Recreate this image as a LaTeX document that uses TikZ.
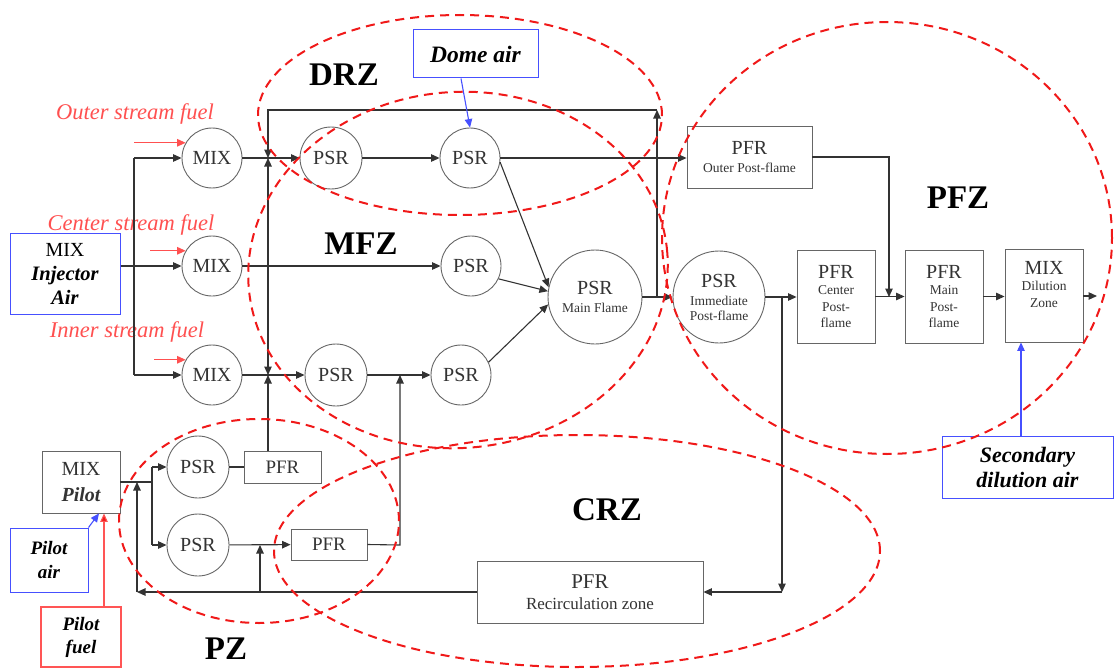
\documentclass[tikz,border=0pt]{standalone}
\usepackage{fontspec}
\setmainfont{Liberation Serif}
\usetikzlibrary{arrows.meta}
\definecolor{zred}{RGB}{240,25,25}
\definecolor{fred}{RGB}{255,80,80}
\definecolor{bblue}{RGB}{70,80,255}
\definecolor{lred}{RGB}{255,85,85}
\newcommand\fsz[2]{\fontsize{#1}{#2}\selectfont}
\tikzset{
  ln/.style={draw=black!80, line width=1.1pt},
  arr/.style={ln, -{Triangle[length=8.5pt,width=7.5pt]}},
  barr/.style={draw=bblue, line width=1.1pt, -{Triangle[length=8.5pt,width=7.5pt]}},
  rarr/.style={draw=fred, line width=1.1pt, -{Triangle[length=8.5pt,width=7.5pt]}},
  circ/.style={circle, draw=black!60, line width=0.9pt, inner sep=0pt, align=center, text=black!80, font=\fsz{13.5}{15}},
  box/.style={rectangle, draw=black!60, line width=0.9pt, inner sep=0pt, align=center, text=black!80, font=\fsz{13.5}{16.5}},
  bbox/.style={rectangle, draw=bblue, line width=1pt, inner sep=0pt, align=center, font=\fsz{22}{25}\bfseries\itshape},
  rbox/.style={rectangle, draw=lred, line width=1.2pt, inner sep=0pt, align=center, font=\fsz{19}{23}\bfseries\itshape},
  flabel/.style={text=fred, font=\fsz{22.5}{24}\itshape},
  zlabel/.style={font=\fsz{33}{33}\bfseries},
  zone/.style={draw=zred, line width=2pt, dash pattern=on 9pt off 6pt}
}
\begin{document}
\begin{tikzpicture}[x=1pt,y=-1pt]
\useasboundingbox (0,0) rectangle (1120,669);
% ---------- nodes ----------
\node[bbox, minimum width=110pt, minimum height=81pt, font=\fsz{20.5}{24}\bfseries\itshape] (inj) at (65,273.5) {{\normalfont\fsz{20}{24}MIX}\\Injector\\Air};
\node[bbox, minimum width=125pt, minimum height=48pt, font=\fsz{23.5}{25}\bfseries\itshape] (dome) at (475.5,54) {Dome air};
\node[circ, minimum size=60pt, font=\fsz{20}{22}] (mixo) at (212,158) {MIX};
\node[circ, minimum size=60pt, font=\fsz{20}{22}] (mixc) at (212,266) {MIX};
\node[circ, minimum size=60pt, font=\fsz{20}{22}] (mixi) at (212,375) {MIX};
\node[circ, minimum size=62pt, font=\fsz{20}{22}] (psr1) at (331,158) {PSR};
\node[circ, minimum size=60pt, font=\fsz{20}{22}] (psr2) at (470,158) {PSR};
\node[circ, minimum size=60pt, font=\fsz{20}{22}] (mfzpsr) at (471,266) {PSR};
\node[circ, minimum size=62pt, font=\fsz{20}{22}] (psr3) at (336,375) {PSR};
\node[circ, minimum size=60pt, font=\fsz{20}{22}] (psr4) at (461,375) {PSR};
\node[circ, minimum size=94pt] (mf) at (595,297) {{\fsz{20}{22}PSR}\\[3pt]Main Flame};
\node[circ, minimum size=92pt] (imm) at (719,297) {{\fsz{20}{22}PSR}\\[3pt]Immediate\\Post-flame};
\node[box, minimum width=125pt, minimum height=62pt] (pfro) at (749.5,157) {{\fsz{20}{22}PFR}\\[1pt]Outer Post-flame};
\node[box, minimum width=78pt, minimum height=93pt] (pfrc) at (836,296.5) {{\fsz{20}{22}PFR}\\Center\\Post-\\flame};
\node[box, minimum width=78pt, minimum height=93pt] (pfrm) at (944,296.5) {{\fsz{20}{22}PFR}\\Main\\Post-\\flame};
\node[box, minimum width=78pt, minimum height=93pt] (dil) at (1044,295.5) {{\fsz{20}{22}MIX}\\Dilution\\Zone\\[6pt]\mbox{}};
\node[bbox, minimum width=171pt, minimum height=62pt] (sec) at (1027.5,467) {Secondary\\dilution air};
\node[box, minimum width=226pt, minimum height=62pt, font=\fsz{17}{20}] (recirc) at (590,592) {{\fsz{21}{22}PFR}\\[1pt]Recirculation zone};
\node[box, minimum width=78pt, minimum height=62pt, font=\fsz{20}{26}\bfseries\itshape] (mixp) at (81,482) {{\normalfont MIX}\\Pilot};
\node[circ, minimum size=62pt, font=\fsz{20}{22}] (psrp1) at (198,467) {PSR};
\node[circ, minimum size=62pt, font=\fsz{20}{22}] (psrp2) at (198,545) {PSR};
\node[box, minimum width=77pt, minimum height=32pt, font=\fsz{19}{22}] (pfr1) at (282.5,467) {PFR};
\node[box, minimum width=76pt, minimum height=31pt, font=\fsz{19}{22}] (pfr2) at (329,544.5) {PFR};
\node[bbox, minimum width=78pt, minimum height=64pt, font=\fsz{19}{24}\bfseries\itshape] (pair) at (49,560) {Pilot\\air};
\node[rbox, minimum width=80pt, minimum height=60pt] (pfuel) at (81,637) {Pilot\\fuel};
% fuel labels
\node[flabel] (lo) at (135,114) {Outer stream fuel};
\node[flabel] (lc) at (131,225) {Center stream fuel};
\node[flabel] (li) at (127,332) {Inner stream fuel};
% zone labels
\node[zlabel] (tdrz) at (344,75) {DRZ};
\node[zlabel] (tmfz) at (361,244) {MFZ};
\node[zlabel] (tpfz) at (958,198) {PFZ};
\node[zlabel] (tcrz) at (607,510) {CRZ};
\node[zlabel] (tpz) at (226,649) {PZ};
% ---------- coordinates ----------
\coordinate (fx1) at (134,158);
\coordinate (fx3) at (134,375);
\coordinate (fo) at (134,141);
\coordinate (fc) at (150,250);
\coordinate (fi) at (154,357);
\coordinate (tr) at (657,110);
\coordinate (tl) at (268,110);
\coordinate (jo) at (268,158);
\coordinate (jc) at (268,266);
\coordinate (ji) at (268,375);
\coordinate (mfj) at (657,297);
\coordinate (rj) at (782,297);
\coordinate (rb) at (782,592);
\coordinate (oc) at (889,157);
\coordinate (od) at (889,297);
\coordinate (out) at (1097,296);
\coordinate (rl) at (137,592);
\coordinate (pj) at (137,482);
\coordinate (rj2) at (260,592);
\coordinate (rj3) at (260,545);
\coordinate (ps) at (152,482);
\coordinate (p1) at (152,467);
\coordinate (p2) at (152,545);
\coordinate (u1) at (400,545);
\coordinate (u2) at (400,375);
% ---------- connectors ----------
\draw[arr] (inj.east |- mixc.west) -- (mixc.west);
\draw[ln] (fx1) -- (fx3);
\draw[arr] (fx1) -- (mixo.west);
\draw[arr] (fx3) -- (mixi.west);
\draw[rarr] (fo |- mixo.150) -- (mixo.150);
\draw[rarr] (fc |- mixc.150) -- (mixc.150);
\draw[rarr] (fi |- mixi.150) -- (mixi.150);
\draw[arr] (mixo) -- (psr1);
\draw[arr] (psr1) -- (psr2);
\draw[arr] (psr2.east) -- (pfro.west |- psr2.east);
\draw[arr] (mixc.east) -- (mfzpsr.west);
\draw[arr] (mixi) -- (psr3);
\draw[arr] (psr3) -- (psr4);
\draw[arr] (psr2.-8) -- (mf.168);
\draw[arr] (mfzpsr.-25) -- (mf.173);
\draw[arr] (psr4.25) -- (mf.189);
\draw[arr] (mf) -- (imm);
\draw[arr] (mfj) -- (tr);
\draw[arr] (tr) -- (tl) -- (jo);
\draw[arr] (jc) -- (jo);
\draw[arr] (jc) -- (ji);
\draw[arr] (ji |- pfr1.north) -- (ji);
\draw[barr] ([xshift=-14.5pt]dome.south) -- (psr2.north);
\draw[arr] (imm.east) -- (pfrc.west |- imm.east);
\draw[arr] (rj) -- (rb);
\draw[arr] (rb) -- (recirc.east);
\draw[arr] (pfrc) -- (pfrm);
\draw[arr] (pfrm.east) -- (dil.west |- pfrm.east);
\draw[arr] (dil.east |- out) -- (out);
\draw[arr] (pfro.east) -- (oc) -- (od);
\draw[barr] ([xshift=-6.5pt]sec.north) -- ([xshift=-6.5pt]sec.north |- dil.south);
\draw[arr] (recirc.west) -- (rl);
\draw[arr] (rl) -- (pj);
\draw[arr] (rj2) -- (rj3);
\draw[ln] (mixp.east |- ps) -- (ps);
\draw[ln] (p1) -- (p2);
\draw[arr] (p1) -- (psrp1.west);
\draw[arr] (p2) -- (psrp2.west);
\draw[ln] (psrp1) -- (pfr1);
\draw[arr] (psrp2) -- (pfr2);
\draw[arr] (pfr2.east) -- (u1) -- (u2);
\draw[barr] (pair.north east) -- ([xshift=18pt]mixp.south);
\draw[draw=lred, line width=1.1pt, -{Triangle[length=8.5pt,width=7.5pt,fill=zred]}] ([xshift=23pt]pfuel.north) -- ([xshift=23pt]mixp.south);
% ---------- zones ----------
\draw[zone] (460,115) ellipse [x radius=202pt, y radius=100pt];
\draw[zone, rotate around={5:(458,270)}] (458,270) ellipse [x radius=210pt, y radius=178pt];
\draw[zone] (887,238) ellipse [x radius=225pt, y radius=216pt];
\draw[zone] (577,551) ellipse [x radius=303pt, y radius=116pt];
\draw[zone] (259,521) ellipse [x radius=140pt, y radius=102pt];
\end{tikzpicture}
\end{document}
